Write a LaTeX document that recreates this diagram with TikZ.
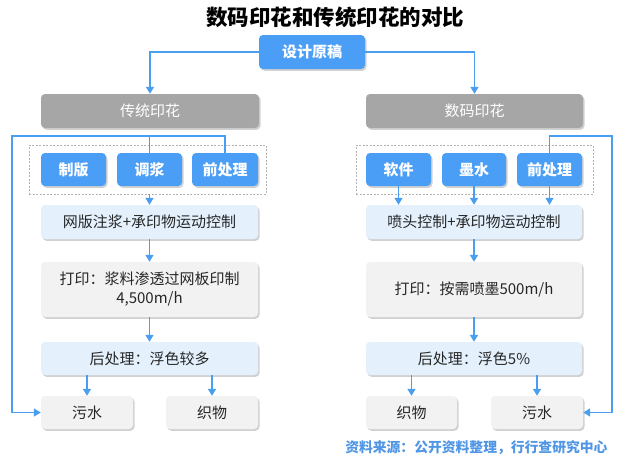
\documentclass[tikz,border=0pt]{standalone}
\usepackage{fontspec}
\newfontfamily\cjk{Noto Sans CJK SC}
\usetikzlibrary{arrows.meta,shadows,fit}
\definecolor{boxblue}{RGB}{74,158,245}
\definecolor{boxgray}{RGB}{166,166,166}
\definecolor{paleblue}{RGB}{228,241,253}
\definecolor{palegray}{RGB}{242,242,242}
\definecolor{wireblue}{RGB}{74,158,240}
\definecolor{srcblue}{RGB}{80,150,228}
\tikzset{
  card/.style={rounded corners=4pt, inner sep=0pt, align=center,
    drop shadow={opacity=0.3, fill=black!60, shadow xshift=1.5pt, shadow yshift=-1.8pt}},
  bluebox/.style={card, fill=boxblue, text=white, font=\cjk\fontsize{15}{17}\selectfont\bfseries},
  graybox/.style={card, fill=boxgray, text=white, font=\cjk\fontsize{15}{17}\selectfont},
  lightbox/.style={card, fill=paleblue, text=black!85, font=\cjk\fontsize{15}{17}\selectfont},
  palebox/.style={card, fill=palegray, text=black!85, font=\cjk\fontsize{15}{19}\selectfont},
  wire/.style={draw=wireblue, line width=1.6pt, -{Triangle[length=7pt,width=8pt]}},
  bus/.style={draw=wireblue, line width=1.6pt},
  groupbox/.style={draw=black!30, dash pattern={on 2pt off 1.5pt}, line width=0.6pt, inner sep=0pt}
}
\begin{document}
\begin{tikzpicture}[x=1pt,y=1pt,yscale=-1,xscale=1]
\useasboundingbox (0,0) rectangle (632,463);

% Text Node
\node (title) at (335,17) [font=\cjk\fontsize{21.5}{24}\selectfont\bfseries] {数码印花和传统印花的对比};

%Rounded Rect
\node (src) at (312,52) [bluebox, minimum width=106, minimum height=34] {设计原稿};
\node (trad) at (150,111) [graybox, minimum width=218, minimum height=34] {传统印花};
\node (digi) at (474.5,111) [graybox, minimum width=217, minimum height=34] {数码印花};

%Rounded Rect -- left inputs
\node (zb) at (73.5,169.5) [bluebox, minimum width=65, minimum height=33] {制版};
\node (tj) at (149.5,169.5) [bluebox, minimum width=65, minimum height=33] {调浆};
\node (qL) at (225,169.5) [bluebox, minimum width=66, minimum height=33] {前处理};
%Rounded Rect -- right inputs
\node (rj) at (398.5,169.5) [bluebox, minimum width=65, minimum height=33] {软件};
\node (ms) at (474,169.5) [bluebox, minimum width=64, minimum height=33] {墨水};
\node (qR) at (549.5,169.5) [bluebox, minimum width=65, minimum height=33] {前处理};

% dashed groups
\coordinate (gLa) at (29,145);
\coordinate (gLb) at (266,194);
\coordinate (gRa) at (356,145);
\coordinate (gRb) at (593,194);
\node (gL) [groupbox, fit=(gLa)(gLb)] {};
\node (gR) [groupbox, fit=(gRa)(gRb)] {};

%Rounded Rect -- left flow
\node (ctlL) at (149.5,222) [lightbox, minimum width=217, minimum height=34] {网版注浆+承印物运动控制};
\node (prtL) at (149.5,289.5) [palebox, minimum width=217, minimum height=55] {打印：浆料渗透过网板印制\\4,500m/h};
\node (pstL) at (149.5,358.5) [lightbox, minimum width=217, minimum height=33] {后处理：浮色较多};
\node (wsL) at (87,412.5) [palebox, minimum width=92, minimum height=33] {污水};
\node (fbL) at (212,412.5) [palebox, minimum width=92, minimum height=33] {织物};

%Rounded Rect -- right flow
\node (ctlR) at (474,222) [lightbox, minimum width=216, minimum height=34] {喷头控制+承印物运动控制};
\node (prtR) at (474,289.5) [palebox, minimum width=216, minimum height=55] {打印：按需喷墨500m/h};
\node (pstR) at (474,358.5) [lightbox, minimum width=216, minimum height=33] {后处理：浮色5\%};
\node (fbR) at (411.5,412.5) [palebox, minimum width=91, minimum height=33] {织物};
\node (wsR) at (537,412.5) [palebox, minimum width=92, minimum height=33] {污水};

% Text Node
\node (note) at (611,448) [anchor=east, text=srcblue, font=\cjk\fontsize{13.8}{15}\selectfont\bfseries] {资料来源：公开资料整理，行行查研究中心};

%Straight Lines
\draw [wire] (src.west) -| (trad.north);
\draw [wire] (src.east) -| (digi.north);

% waste water bus, left
\coordinate (busL) at (12,136);
\draw [bus] (tj.north) -- (tj.north |- busL);
\draw [wire] (qL.north) |- (busL) |- (wsL.west);
% waste water bus, right
\coordinate (busR) at (612,136);
\draw [wire] (qR.north) |- (busR) |- (wsR.east);

%Straight Lines -- left
\draw [wire] (tj |- gL.south) -- (ctlL.north);
\draw [wire] (ctlL.south) -- (prtL.north);
\draw [wire] (prtL.south) -- (pstL.north);
\draw [wire] (wsL |- pstL.south) -- (wsL.north);
\draw [wire] (fbL |- pstL.south) -- (fbL.north);

%Straight Lines -- right
\draw [wire] (rj.south) -- (rj |- ctlR.north);
\draw [wire] (ms.south) -- (ms |- ctlR.north);
\draw [wire] (qR.south) -- (qR |- ctlR.north);
\draw [wire] (ctlR.south) -- (prtR.north);
\draw [wire] (prtR.south) -- (pstR.north);
\draw [wire] (fbR |- pstR.south) -- (fbR.north);
\draw [wire] (wsR |- pstR.south) -- (wsR.north);

\end{tikzpicture}
\end{document}
